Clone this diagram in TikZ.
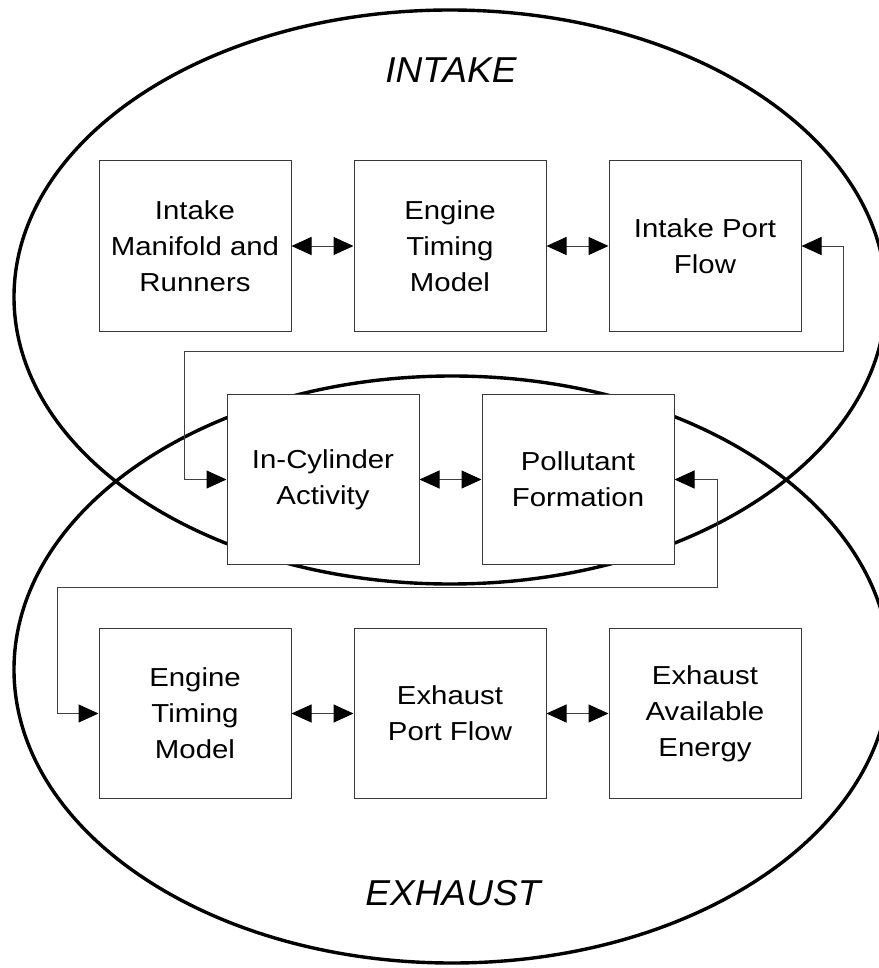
\documentclass[tikz,border=0pt]{standalone}
\usepackage{fontspec}
\setmainfont{Liberation Sans}
\newfontfamily\boxfont[FakeStretch=1.13]{Liberation Sans}
\newfontfamily\zonefont[FakeStretch=1.03]{Liberation Sans}
\usetikzlibrary{arrows.meta}
\begin{document}
\begin{tikzpicture}[x=1pt,y=-1pt,
  blk/.style={draw=black!78, line width=1pt, fill=white,
    minimum width=192pt, minimum height=170pt, inner sep=0pt,
    align=center, font=\boxfont\fontsize{26}{36}\selectfont},
  zone/.style={line width=3.4pt},
  tip/.tip={Triangle[length=20pt,width=18pt,color=black]},
  link/.style={draw=black!75, line width=1pt, tip-tip},
  zonetitle/.style={inner sep=0pt, font=\zonefont\fontsize{36}{40}\selectfont\itshape}
]
\useasboundingbox (0,0) rectangle (878,968);

% the two overlapping regions
\draw[zone] (450,297) ellipse [x radius=436pt, y radius=287pt];
\draw[zone] (452,669.5) ellipse [x radius=438pt, y radius=293.5pt];

\node[zonetitle] (tin) at (451,70) {INTAKE};
\node[zonetitle] (tex) at (453,893.5) {EXHAUST};

% intake row
\node[blk] (man) at (195,246) {Intake\\Manifold and\\Runners};
\node[blk] (et1) at (450,246) {Engine\\Timing\\Model};
\node[blk] (ipf) at (705,246) {Intake Port\\Flow};

% shared row
\node[blk] (cyl) at (323,479.5) {In-Cylinder\\Activity};
\node[blk] (pol) at (578,479.5) {Pollutant\\Formation};

% exhaust row
\node[blk] (et2) at (195,713.5) {Engine\\Timing\\Model};
\node[blk] (epf) at (450,713.5) {Exhaust\\Port Flow};
\node[blk] (eae) at (705,713.5) {Exhaust\\Available\\Energy};

% links between neighbours
\draw[link] (man) -- (et1);
\draw[link] (et1) -- (ipf);
\draw[link] (cyl) -- (pol);
\draw[link] (et2) -- (epf);
\draw[link] (epf) -- (eae);

% routed links between rows
\coordinate (r1) at (843,351);
\coordinate (l1) at (184,351);
\draw[link] (ipf.east) -| (r1) -- (l1) |- (cyl.west);

\coordinate (r2) at (717,587);
\coordinate (l2) at (57,587);
\draw[link] (pol.east) -| (r2) -- (l2) |- (et2.west);
\end{tikzpicture}
\end{document}
